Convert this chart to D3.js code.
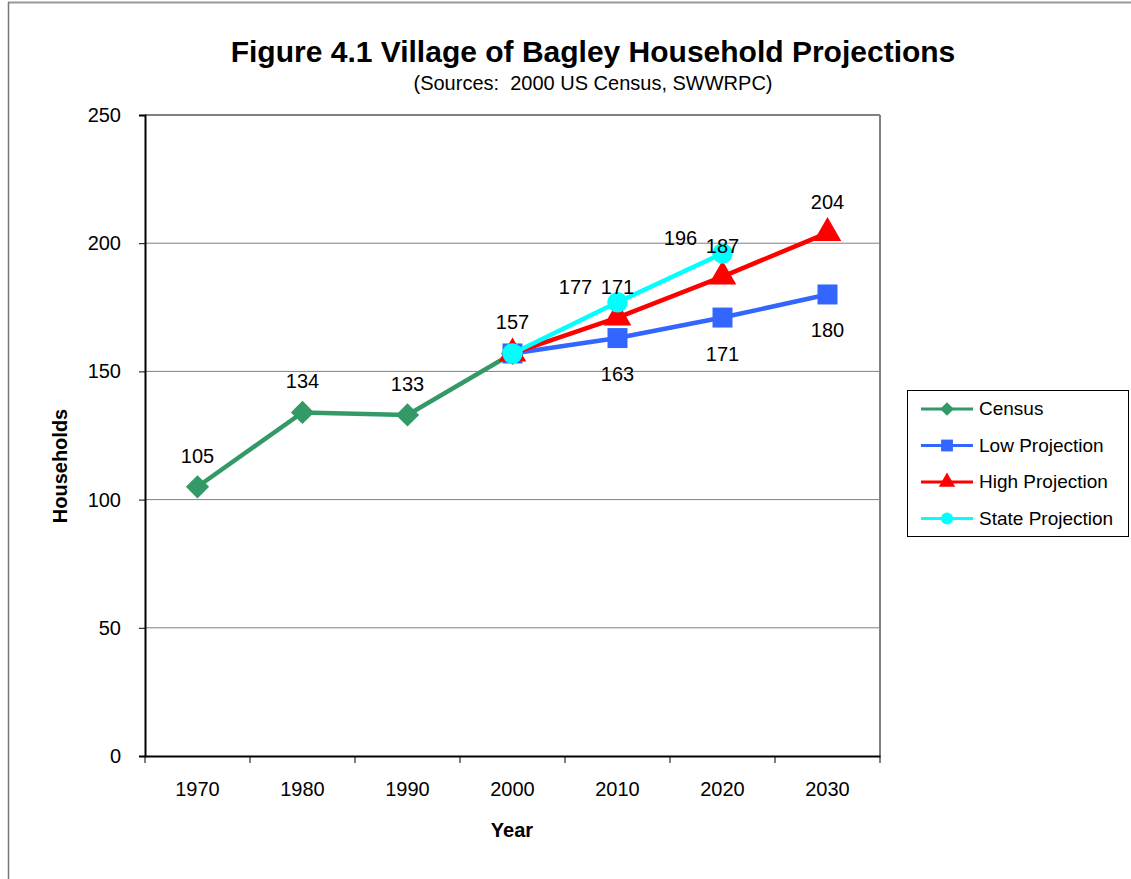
<!DOCTYPE html>
<html>
<head>
<meta charset="utf-8">
<style>
  body { margin: 0; background: #fff; }
  text { font-family: "Liberation Sans", Arial, sans-serif; fill: #000; }
</style>
</head>
<body>
<script src="https://cdnjs.cloudflare.com/ajax/libs/d3/7.8.5/d3.min.js"></script>
<script>
// data
var years = ["1970", "1980", "1990", "2000", "2010", "2020", "2030"];
var census = [105, 134, 133, 157, null, null, null];
var lowProj = [null, null, null, 157, 163, 171, 180];
var highProj = [null, null, null, 157, 171, 187, 204];
var stateProj = [null, null, null, 157, 177, 196, null];
var yTicks = [0, 50, 100, 150, 200, 250];

var width = 1131, height = 879;
var pLeft = 145, pRight = 880, pTop = 115, pBottom = 756;

var svg = d3.select("body").append("svg")
    .attr("width", width)
    .attr("height", height);

// outer frame
svg.append("line").attr("x1", 8).attr("x2", width).attr("y1", 2.5).attr("y2", 2.5)
    .attr("stroke", "#999").attr("stroke-width", 2);
svg.append("line").attr("x1", 8.5).attr("x2", 8.5).attr("y1", 2).attr("y2", height)
    .attr("stroke", "#777").attr("stroke-width", 1.5);

var x = d3.scaleBand().domain(years).range([pLeft, pRight]);
var y = d3.scaleLinear().domain([0, 250]).range([pBottom, pTop]);

// gridlines
svg.selectAll(".grid").data(yTicks.slice(1, -1)).enter().append("line")
    .attr("x1", pLeft).attr("x2", pRight)
    .attr("y1", function(d) { return y(d); })
    .attr("y2", function(d) { return y(d); })
    .attr("stroke", "#808080").attr("stroke-width", 1);

// plot border top/right
svg.append("line").attr("x1", pLeft).attr("x2", pRight).attr("y1", pTop).attr("y2", pTop)
    .attr("stroke", "#808080").attr("stroke-width", 2);
svg.append("line").attr("x1", pRight).attr("x2", pRight).attr("y1", pTop).attr("y2", pBottom)
    .attr("stroke", "#808080").attr("stroke-width", 2);

// y axis
var yAxis = svg.append("g").attr("transform", "translate(" + pLeft + ",0)")
    .call(d3.axisLeft(y).tickValues(yTicks).tickSize(6).tickPadding(18));
yAxis.select(".domain").attr("stroke", "#000").attr("stroke-width", 2);
yAxis.selectAll(".tick line").attr("stroke", "#000");
yAxis.selectAll("text").style("font-size", "20px")
    .style("font-family", "Liberation Sans, Arial, sans-serif");

// x axis
var xAxis = svg.append("g").attr("transform", "translate(0," + pBottom + ")")
    .call(d3.axisBottom(x).tickSize(0).tickPadding(26));
xAxis.select(".domain").attr("stroke", "#000").attr("stroke-width", 2);
xAxis.selectAll("text").style("font-size", "20px")
    .style("font-family", "Liberation Sans, Arial, sans-serif");
// ticks at band edges
var edges = years.map(function(d) { return x(d); }).concat([pRight]);
svg.selectAll(".xt").data(edges).enter().append("line")
    .attr("x1", function(d) { return d; }).attr("x2", function(d) { return d; })
    .attr("y1", pBottom).attr("y2", pBottom + 7)
    .attr("stroke", "#000");

function cx(i) { return x(years[i]) + x.bandwidth() / 2; }

var series = [
  { name: "Census", values: census, color: "#339966", shape: d3.symbolSquare, size: 270, rot: 45 },
  { name: "Low Projection", values: lowProj, color: "#3366FF", shape: d3.symbolSquare, size: 400, rot: 0 },
  { name: "High Projection", values: highProj, color: "#FF0000", shape: d3.symbolTriangle, size: 330, rot: 0 },
  { name: "State Projection", values: stateProj, color: "#00FFFF", shape: d3.symbolCircle, size: 330, rot: 0 }
];

var line = d3.line()
    .defined(function(d) { return d != null; })
    .x(function(d, i) { return cx(i); })
    .y(function(d) { return y(d); });

series.forEach(function(s) {
  svg.append("path").datum(s.values)
      .attr("d", line)
      .attr("fill", "none")
      .attr("stroke", s.color)
      .attr("stroke-width", 4.5);
  svg.selectAll(null).data(s.values.map(function(v, i) { return { v: v, i: i }; })
      .filter(function(d) { return d.v != null; }))
    .enter().append("path")
      .attr("d", d3.symbol().type(s.shape).size(s.size))
      .attr("transform", function(d) {
        return "translate(" + cx(d.i) + "," + y(d.v) + ") rotate(" + s.rot + ")";
      })
      .attr("fill", s.color);
});

// data labels
var labels = [];
census.forEach(function(v, i) { if (v != null) labels.push({ i: i, v: v, dx: 0, dy: -24 }); });
lowProj.forEach(function(v, i) { if (v != null && i > 3) labels.push({ i: i, v: v, dx: 0, dy: 43 }); });
highProj.forEach(function(v, i) { if (v != null && i > 3) labels.push({ i: i, v: v, dx: 0, dy: -24 }); });
stateProj.forEach(function(v, i) { if (v != null && i > 3) labels.push({ i: i, v: v, dx: -42, dy: -8 }); });

svg.selectAll(".lbl").data(labels).enter().append("text")
    .attr("x", function(d) { return cx(d.i) + d.dx; })
    .attr("y", function(d) { return y(d.v) + d.dy; })
    .attr("text-anchor", "middle")
    .style("font-size", "20px")
    .text(function(d) { return d.v; });

// titles
svg.append("text").attr("x", 593).attr("y", 62).attr("text-anchor", "middle")
    .style("font-size", "30px").style("font-weight", "bold")
    .text("Figure 4.1 Village of Bagley Household Projections");
svg.append("text").attr("x", 593).attr("y", 90).attr("text-anchor", "middle")
    .style("font-size", "20px").style("white-space", "pre")
    .text("(Sources:  2000 US Census, SWWRPC)");
svg.append("text").attr("x", 512).attr("y", 837).attr("text-anchor", "middle")
    .style("font-size", "20px").style("font-weight", "bold")
    .text("Year");
svg.append("text").attr("transform", "translate(67,466) rotate(-90)")
    .attr("text-anchor", "middle")
    .style("font-size", "20px").style("font-weight", "bold")
    .text("Households");

// legend
var lg = svg.append("g").attr("transform", "translate(907,390)");
lg.append("rect").attr("x", 0.5).attr("y", 0.5).attr("width", 221).attr("height", 146)
    .attr("fill", "#fff").attr("stroke", "#000");
series.forEach(function(s, k) {
  var ly = 19 + k * 36.5;
  lg.append("line").attr("x1", 14).attr("x2", 66).attr("y1", ly).attr("y2", ly)
      .attr("stroke", s.color).attr("stroke-width", 3);
  lg.append("path")
      .attr("d", d3.symbol().type(s.shape).size(s.size * 0.35))
      .attr("transform", "translate(40," + ly + ") rotate(" + s.rot + ")")
      .attr("fill", s.color);
  lg.append("text").attr("x", 72).attr("y", ly + 6)
      .style("font-size", "19px")
      .text(s.name);
});
</script>
</body>
</html>
